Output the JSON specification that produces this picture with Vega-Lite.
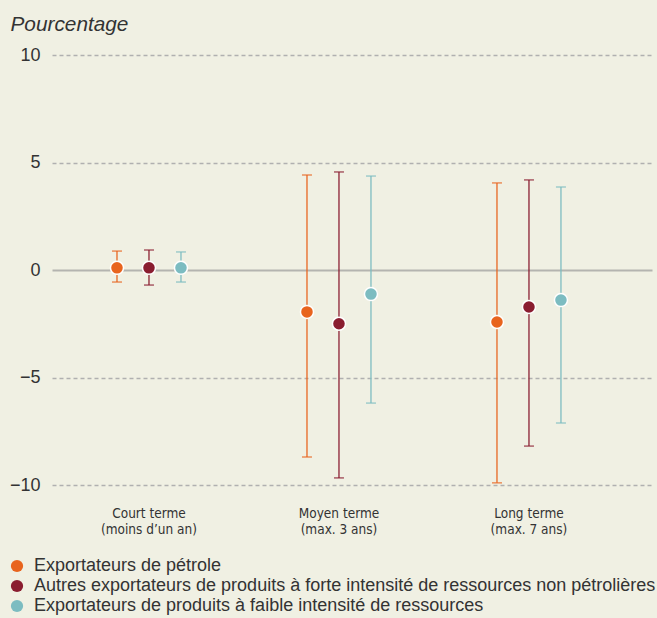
{
  "$schema": "https://vega.github.io/schema/vega-lite/v6.json",
  "autosize": "none",
  "padding": {"left": 52, "top": 55, "right": 5, "bottom": 133},
  "width": 600,
  "height": 430,
  "background": "#f0f0e3",
  "config": {
    "view": {"stroke": null},
    "font": "Liberation Sans"
  },
  "data": {
    "values": [
      {"terme": "Court terme|(moins d’un an)", "groupe": "Exportateurs de pétrole", "val": 0.1, "lo": -0.56, "hi": 0.88},
      {"terme": "Court terme|(moins d’un an)", "groupe": "Autres exportateurs de produits à forte intensité de ressources non pétrolières", "val": 0.1, "lo": -0.7, "hi": 0.93},
      {"terme": "Court terme|(moins d’un an)", "groupe": "Exportateurs de produits à faible intensité de ressources", "val": 0.1, "lo": -0.56, "hi": 0.84},
      {"terme": "Moyen terme|(max. 3 ans)", "groupe": "Exportateurs de pétrole", "val": -1.95, "lo": -8.7, "hi": 4.42},
      {"terme": "Moyen terme|(max. 3 ans)", "groupe": "Autres exportateurs de produits à forte intensité de ressources non pétrolières", "val": -2.5, "lo": -9.67, "hi": 4.56},
      {"terme": "Moyen terme|(max. 3 ans)", "groupe": "Exportateurs de produits à faible intensité de ressources", "val": -1.12, "lo": -6.19, "hi": 4.37},
      {"terme": "Long terme|(max. 7 ans)", "groupe": "Exportateurs de pétrole", "val": -2.42, "lo": -9.9, "hi": 4.05},
      {"terme": "Long terme|(max. 7 ans)", "groupe": "Autres exportateurs de produits à forte intensité de ressources non pétrolières", "val": -1.72, "lo": -8.19, "hi": 4.19},
      {"terme": "Long terme|(max. 7 ans)", "groupe": "Exportateurs de produits à faible intensité de ressources", "val": -1.4, "lo": -7.12, "hi": 3.86}
    ]
  },
  "encoding": {
    "x": {
      "field": "terme",
      "type": "nominal",
      "sort": ["Court terme|(moins d’un an)", "Moyen terme|(max. 3 ans)", "Long terme|(max. 7 ans)"],
      "scale": {"paddingInner": 0.158, "paddingOuter": 0.158, "align": 0.283},
      "axis": {
        "title": null,
        "labelExpr": "split(datum.label, '|')",
        "labelAngle": 0,
        "domain": false,
        "ticks": false,
        "labelPadding": 21,
        "labelFont": "DejaVu Sans Condensed, Roboto Condensed, Liberation Sans, sans-serif",
        "labelFontSize": 13.5,
        "labelLineHeight": 16,
        "labelColor": "#333333",
        "labelBaseline": "top"
      }
    },
    "xOffset": {
      "field": "groupe",
      "type": "nominal",
      "sort": ["Exportateurs de pétrole", "Autres exportateurs de produits à forte intensité de ressources non pétrolières", "Exportateurs de produits à faible intensité de ressources"],
      "scale": {"paddingInner": 0, "paddingOuter": 1}
    },
    "color": {
      "field": "groupe",
      "type": "nominal",
      "sort": ["Exportateurs de pétrole", "Autres exportateurs de produits à forte intensité de ressources non pétrolières", "Exportateurs de produits à faible intensité de ressources"],
      "scale": {
        "domain": ["Exportateurs de pétrole", "Autres exportateurs de produits à forte intensité de ressources non pétrolières", "Exportateurs de produits à faible intensité de ressources"],
        "range": ["#e8641e", "#8a1d30", "#7cbcc1"]
      },
      "legend": {
        "title": null,
        "orient": "none",
        "legendX": -44,
        "legendY": 502,
        "direction": "vertical",
        "symbolType": "circle",
        "symbolSize": 150,
        "symbolStrokeWidth": 0,
        "symbolOpacity": 1,
        "labelFontSize": 18,
        "labelColor": "#333333",
        "labelLimit": 0,
        "labelOffset": 8,
        "rowPadding": 2,
        "padding": 0
      }
    }
  },
  "layer": [
    {
      "mark": {"type": "rule", "strokeWidth": 1.5, "opacity": 0.85},
      "encoding": {
        "y": {
          "field": "lo",
          "type": "quantitative",
          "scale": {"domain": [-10, 10], "nice": false},
          "axis": {
            "values": [-10, -5, 0, 5, 10],
            "domain": false,
            "ticks": false,
            "labelPadding": 12,
            "labelFontSize": 18,
            "labelColor": "#333333",
            "gridColor": {"condition": {"test": "datum.value === 0", "value": "#b4b4b0"}, "value": "#b0b0b0"},
            "gridDash": {"condition": {"test": "datum.value === 0", "value": []}, "value": [4, 3]},
            "gridWidth": {"condition": {"test": "datum.value === 0", "value": 2}, "value": 1.5},
            "title": "Pourcentage",
            "titleAngle": 0,
            "titleX": -42,
            "titleY": -25,
            "titleAlign": "left",
            "titleBaseline": "alphabetic",
            "titleFontStyle": "italic",
            "titleFontWeight": "normal",
            "titleFontSize": 20.8,
            "titleColor": "#333333"
          }
        },
        "y2": {"field": "hi"}
      }
    },
    {
      "mark": {"type": "tick", "size": 10, "thickness": 1.5},
      "encoding": {"y": {"field": "lo", "type": "quantitative"}}
    },
    {
      "mark": {"type": "tick", "size": 10, "thickness": 1.5},
      "encoding": {"y": {"field": "hi", "type": "quantitative"}}
    },
    {
      "mark": {"type": "circle", "size": 170, "opacity": 1, "stroke": "white", "strokeWidth": 1.5},
      "encoding": {"y": {"field": "val", "type": "quantitative"}}
    }
  ]
}
